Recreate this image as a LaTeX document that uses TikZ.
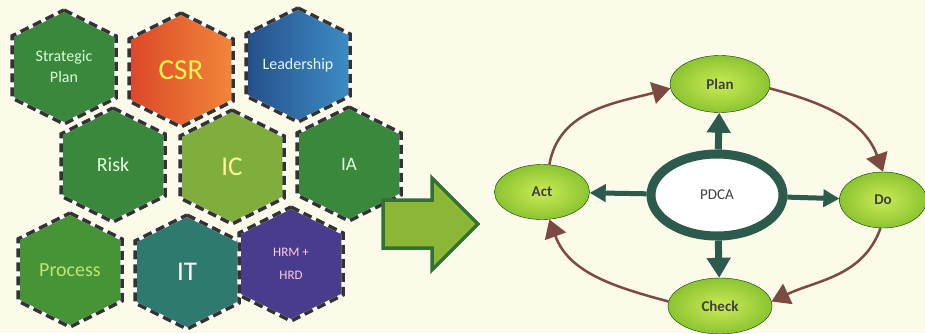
\documentclass[tikz,border=0pt]{standalone}
\usepackage{fontspec}
\setmainfont{Carlito}
\usetikzlibrary{shapes.geometric,arrows.meta}

\definecolor{paper}{HTML}{FCFAE9}
\definecolor{hexgreen}{HTML}{3A883C}
\definecolor{hexlime}{HTML}{7FAE3C}
\definecolor{hexteal}{HTML}{2F7A6E}
\definecolor{hexpurple}{HTML}{4A3C8C}
\definecolor{csrred}{HTML}{DC4828}
\definecolor{csrorange}{HTML}{F2863A}
\definecolor{leaddark}{HTML}{25508A}
\definecolor{leadlight}{HTML}{3D8CC4}
\definecolor{limelight}{HTML}{CBEB55}
\definecolor{limedark}{HTML}{8CC431}
\definecolor{cyclebrown}{HTML}{7C4A42}
\definecolor{coreteal}{HTML}{2C5A4C}

\begin{document}
\begin{tikzpicture}[x=1pt,y=-1pt,
  hexline/.style={draw=black!80,line width=3.5pt,dash pattern=on 9pt off 5pt},
  vaihe/.style={ellipse,draw=black!60!green!60!black,thin,inner sep=0pt,
    shading=radial,inner color=limelight,outer color=limedark,
    font=\fontsize{15}{17}\bfseries,text=black!75},
  kierto/.style={draw=cyclebrown,line width=2.5pt,-{Triangle[length=18pt,width=22pt]}},
  ydin/.style={draw=coreteal,line width=5pt,-{Triangle[length=16pt,width=17pt]}},
  ydinpysty/.style={draw=coreteal,line width=7pt,-{Triangle[length=20pt,width=23pt]}}]
\newcommand\hexa[6]{
\path[#4,draw=white,line width=3.5pt] (#1,#2-57) -- (#1+52,#2-31) -- (#1+52,#2+31)
  -- (#1,#2+57) -- (#1-52,#2+31) -- (#1-52,#2-31) -- cycle;
\path[hexline] (#1,#2-57) -- (#1+52,#2-31) -- (#1+52,#2+31)
  -- (#1,#2+57) -- (#1-52,#2+31) -- (#1-52,#2-31) -- cycle;
\node[align=center,#5] (#3) at (#1,#2) {#6};
}
\fill[paper] (0,0) rectangle (925,333);
\useasboundingbox (0,0) rectangle (925,333);
% hexagons
\hexa{64}{67}{strat}{fill=hexgreen}{text=green!15,font=\fontsize{16}{21}\selectfont}{Strategic\\Plan}
\hexa{181}{70}{csr}{left color=csrred,right color=csrorange}{text=yellow!70,font=\fontsize{29}{30}\selectfont}{CSR}
\hexa{298}{65}{lead}{left color=leaddark,right color=leadlight}{text=cyan!10,font=\fontsize{16}{18}\selectfont}{Leadership}
\hexa{113}{165}{risk}{fill=hexgreen}{text=green!10,font=\fontsize{20}{22}\selectfont}{Risk}
\hexa{232}{167}{ic}{fill=hexlime}{text=yellow!40,font=\fontsize{27}{30}\selectfont}{IC}
\hexa{349}{164}{ia}{fill=hexgreen}{text=green!10,font=\fontsize{19}{21}\selectfont}{IA}
\hexa{70}{270}{proc}{fill=hexgreen!90!lime}{text=yellow!60!green!60,font=\fontsize{20}{22}\selectfont}{Process}
\hexa{187}{272}{it}{fill=hexteal}{text=white,font=\fontsize{27}{30}\selectfont}{IT}
\hexa{291}{264}{hrm}{fill=hexpurple}{text=magenta!20,font=\fontsize{13}{23}\selectfont}{HRM +\\HRD}
% big arrow
\path[fill=hexlime!90!yellow,draw=green!30!black!80,line width=3.5pt,line join=miter]
  (383,200) -- (432,200) -- (432,178) -- (478,224) -- (432,270) -- (432,248)
  -- (383,248) -- cycle;
% PDCA cycle
\node[ellipse,draw=coreteal,fill=white,line width=9pt,minimum width=132,minimum height=82,
  inner sep=0pt,font=\fontsize{15}{17}\selectfont,text=black!75] (pdca) at (717,195) {PDCA};
\node[vaihe,minimum width=100,minimum height=57] (plan) at (720,84) {Plan};
\node[vaihe,minimum width=87,minimum height=56] (do) at (883,200) {Do};
\node[vaihe,minimum width=104,minimum height=56] (check) at (720,306) {Check};
\node[vaihe,minimum width=95,minimum height=55] (act) at (542,192) {Act};
\draw[ydin] (pdca) -- (act);
\draw[ydin] (pdca) -- (do);
\draw[ydinpysty] (pdca) -- (plan);
\draw[ydinpysty] (pdca) -- (check);
\draw[kierto] (act.75) to[out=80,in=195] (plan.185);
\draw[kierto] (plan.-5) to[out=-15,in=110] (do.north);
\draw[kierto] (do.-95) to[out=-110,in=25] (check.5);
\draw[kierto] (check.175) to[out=165,in=-70] (act.-75);
\end{tikzpicture}
\end{document}
